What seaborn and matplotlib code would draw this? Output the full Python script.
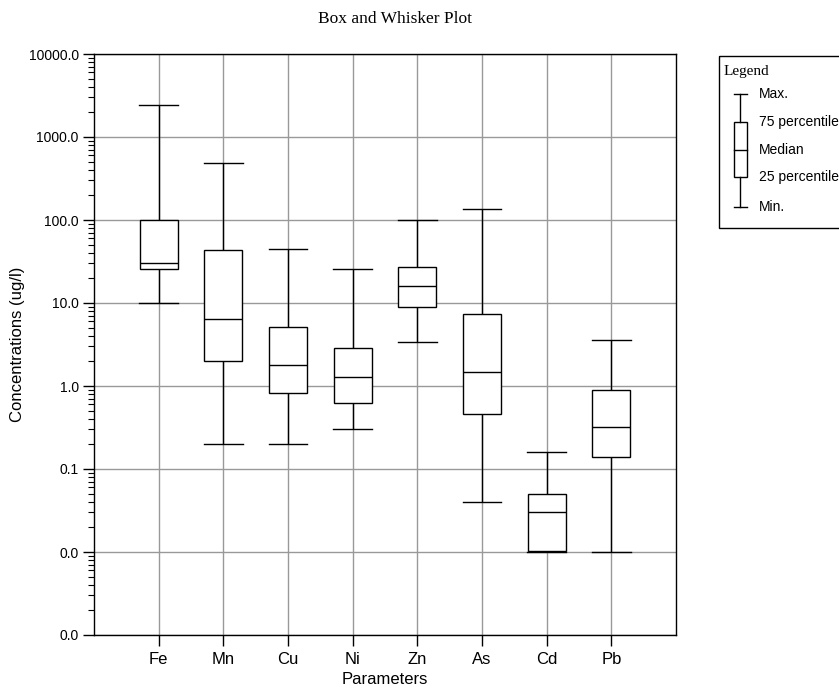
import matplotlib
matplotlib.use('Agg')
import matplotlib.pyplot as plt
from matplotlib.patches import Rectangle
from matplotlib.lines import Line2D
from matplotlib.transforms import Affine2D
from matplotlib.ticker import FixedLocator, FuncFormatter, NullFormatter
import numpy as np
import pandas as pd
import seaborn as sns

# values (ug/l)
params = ['Fe', 'Mn', 'Cu', 'Ni', 'Zn', 'As', 'Cd', 'Pb']
mins = [10, 0.2, 0.2, 0.3, 3.4, 0.04, 0.01, 0.01]
q1s = [26, 2.0, 0.82, 0.62, 9.0, 0.455, 0.0102, 0.14]
medians = [30, 6.4, 1.8, 1.3, 16, 1.46, 0.0305, 0.32]
q3s = [100, 44, 5.2, 2.9, 27, 7.4, 0.05, 0.89]
maxs = [2450, 490, 45, 26, 100, 135, 0.16, 3.6]

# five summary values per parameter -> the quartiles of 5 points land on them exactly
rows = []
for i, p in enumerate(params):
    for v in (mins[i], q1s[i], medians[i], q3s[i], maxs[i]):
        rows.append((p, v))
df = pd.DataFrame(rows, columns=['param', 'conc'])

plt.rcParams['font.family'] = ['Liberation Sans', 'DejaVu Sans']

fig = plt.figure(figsize=(8.39, 6.89), dpi=100)
ax = fig.add_axes([94/839, 54/689, 582/839, 581/689])

sns.boxplot(data=df, x='param', y='conc', order=params, log_scale=True,
            whis=(0, 100), width=0.59, color='white', linecolor='black',
            linewidth=1.0, capwidths=0.6, ax=ax)

ax.set_ylim(1e-3, 1e4)
ax.set_xlim(-1, 8)
decades = [10.0 ** k for k in range(-3, 5)]
ax.yaxis.set_major_locator(FixedLocator(decades))
ax.yaxis.set_minor_locator(FixedLocator([d * m for d in decades[:-1] for m in range(2, 10)]))
ax.yaxis.set_major_formatter(FuncFormatter(lambda v, pos: f'{v:.1f}'))
ax.yaxis.set_minor_formatter(NullFormatter())

ax.grid(True, which='major', color='#999999', linewidth=1.0)
ax.set_axisbelow(True)
ax.tick_params(axis='y', which='major', length=8, width=1, labelsize=10, pad=3)
ax.tick_params(axis='y', which='minor', length=4.5, width=0.8)
ax.tick_params(axis='x', length=8, width=1, labelsize=12, pad=4.5)
for s in ax.spines.values():
    s.set_color('black')
    s.set_linewidth(1.0)

ax.set_xlabel('Parameters', fontsize=12, labelpad=3.5)
ax.set_ylabel('Concentrations (ug/l)', fontsize=12, labelpad=2.5)
fig.text(395/839, 1 - 19/689, 'Box and Whisker Plot', family='Liberation Serif',
         fontsize=12.5, ha='center', va='center')

# legend panel, drawn on the figure in pixel units (origin top-left)
px = Affine2D().scale(1/839, -1/689).translate(0, 1) + fig.transFigure
fig.add_artist(Rectangle((718.5, 56), 200, 172, fill=False, edgecolor='black',
                         lw=1.0, transform=px))
fig.text(724, 71, 'Legend', family='Liberation Serif', fontsize=11, va='center',
         transform=px)
cx = 740
for xs, ys in [([cx, cx], [94, 122]), ([cx, cx], [177, 207]),
               ([cx - 6.5, cx + 6.5], [94, 94]), ([cx - 6.5, cx + 6.5], [207, 207]),
               ([cx - 6.5, cx + 6.5], [150, 150])]:
    fig.add_artist(Line2D(xs, ys, color='black', lw=1, transform=px))
fig.add_artist(Rectangle((cx - 6.5, 122), 13, 55, fill=False, edgecolor='black',
                         lw=1, transform=px))
for ty, lab in zip([94, 122, 150, 177, 207],
                   ['Max.', '75 percentile', 'Median', '25 percentile', 'Min.']):
    fig.text(759, ty, lab, fontsize=10, va='center', transform=px)

fig.savefig('out.png', dpi=100)
